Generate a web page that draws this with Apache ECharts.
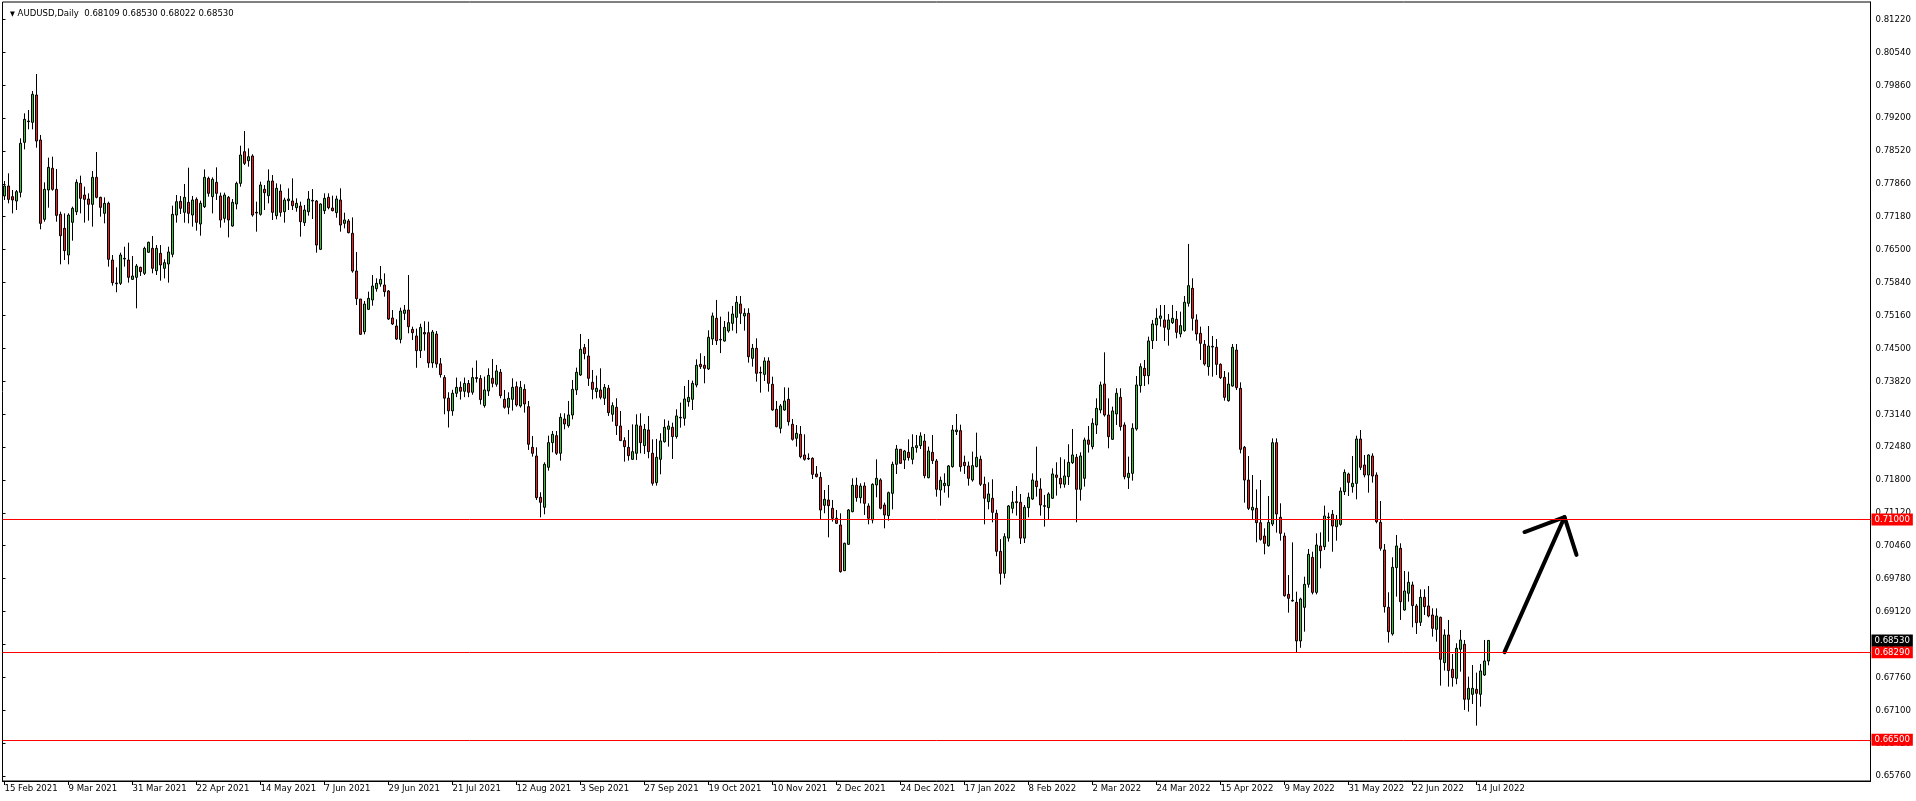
<!DOCTYPE html>
<html><head><meta charset="utf-8">
<script src="https://cdn.jsdelivr.net/npm/echarts@6/dist/echarts.min.js"></script>
<style>html,body{margin:0;padding:0;background:#fff;overflow:hidden}#c{width:1916px;height:801px}</style>
</head><body><div id="c"></div>
<script>
// ---------------- DATA ----------------
const startDate = '2021-02-15';          // first daily bar (weekdays only)
const futureSlots = 95;                   // empty bars to the right of the last candle
const xTickLabels = ['15 Feb 2021','9 Mar 2021','31 Mar 2021','22 Apr 2021','14 May 2021','7 Jun 2021','29 Jun 2021','21 Jul 2021','12 Aug 2021','3 Sep 2021','27 Sep 2021','19 Oct 2021','10 Nov 2021','2 Dec 2021','24 Dec 2021','17 Jan 2022','8 Feb 2022','2 Mar 2022','24 Mar 2022','15 Apr 2022','9 May 2022','31 May 2022','22 Jun 2022','14 Jul 2022'];
const xTickEvery = 16;
const yTickLabels = ['0.65760','0.66420','0.67100','0.67760','0.68440','0.69120','0.69780','0.70460','0.71120','0.71800','0.72480','0.73140','0.73820','0.74500','0.75160','0.75840','0.76500','0.77180','0.77860','0.78520','0.79200','0.79860','0.80540','0.81220'];
const header = {symbol:'AUDUSD,Daily', o:'0.68109', h:'0.68530', l:'0.68022', c:'0.68530'};
const levels = [0.71000, 0.68290, 0.66500];
const lastPrice = 0.68530;
const arrowShaft = [[375,0.68290],[390,0.71050]];
const arrowHead = [[380,0.70745],[390,0.71050],[393,0.70276]];

const open = [
0.77610,0.77814,0.77596,0.77507,0.77684,0.78706,0.79128,0.79115,0.79673,0.78754,
0.77133,0.77732,0.78175,0.77746,0.77235,0.76949,0.76404,0.77072,0.77289,0.77868,
0.77630,0.77548,0.77439,0.77991,0.77582,0.77255,0.77460,0.76302,0.75832,0.75825,
0.76322,0.76302,0.75907,0.75948,0.76152,0.76030,0.76459,0.76540,0.76084,0.76438,
0.76132,0.76220,0.76418,0.77221,0.77501,0.77276,0.77480,0.77221,0.77541,0.77037,
0.77392,0.77970,0.77596,0.77889,0.77610,0.77153,0.77582,0.76997,0.77446,0.77868,
0.78515,0.78331,0.78427,0.77276,0.77235,0.77746,0.77616,0.77916,0.77208,0.77711,
0.77289,0.77514,0.77507,0.77371,0.77405,0.77065,0.77289,0.77521,0.77507,0.76520,
0.77310,0.77582,0.77364,0.77269,0.77528,0.77051,0.77099,0.76847,0.76077,0.75505,
0.74838,0.75294,0.75485,0.75716,0.75811,0.75791,0.75669,0.75117,0.74953,0.74680,
0.75212,0.75280,0.74885,0.74749,0.74450,0.74820,0.74817,0.74200,0.74790,0.74180,
0.73900,0.73480,0.73220,0.73580,0.73700,0.73620,0.73780,0.73600,0.73900,0.73880,
0.73327,0.73626,0.73885,0.73763,0.74008,0.73456,0.73293,0.73456,0.73715,0.73320,
0.73660,0.73306,0.72475,0.72298,0.71454,0.71250,0.72067,0.72571,0.72714,0.72353,
0.73054,0.72918,0.73136,0.73647,0.73953,0.74512,0.74341,0.73803,0.73613,0.73647,
0.73477,0.73681,0.73150,0.73293,0.72911,0.72612,0.72475,0.72230,0.72353,0.72911,
0.72510,0.72830,0.72353,0.71754,0.72230,0.72591,0.72843,0.72884,0.72694,0.73075,
0.73068,0.73408,0.73456,0.73749,0.74171,0.74151,0.74076,0.74689,0.75111,0.74669,
0.74647,0.74852,0.75008,0.75131,0.75403,0.75158,0.75213,0.74293,0.74498,0.74007,
0.73966,0.74239,0.73762,0.73251,0.72863,0.73238,0.73456,0.72945,0.72659,0.72741,
0.72318,0.72250,0.72250,0.71930,0.71862,0.71290,0.71399,0.71229,0.71025,0.70888,
0.69955,0.70493,0.71161,0.71699,0.71447,0.71685,0.71276,0.70991,0.71706,0.71808,
0.71297,0.71079,0.71535,0.72128,0.72434,0.72216,0.72373,0.72230,0.72468,0.72509,
0.72604,0.71855,0.72373,0.72196,0.71603,0.71692,0.71692,0.72080,0.72795,0.72816,
0.72169,0.72094,0.71808,0.72081,0.72230,0.71720,0.71365,0.71434,0.71127,0.70350,
0.69900,0.70620,0.71229,0.71365,0.71352,0.70620,0.71243,0.71420,0.71788,0.71624,
0.71283,0.71243,0.71434,0.71910,0.71842,0.71720,0.71876,0.72162,0.72271,0.71617,
0.71842,0.72625,0.72489,0.72932,0.73238,0.73769,0.73136,0.72639,0.73156,0.73497,
0.72932,0.71856,0.71944,0.72850,0.73735,0.74089,0.73939,0.74655,0.74975,0.75111,
0.75077,0.74886,0.75022,0.75090,0.74791,0.74859,0.75417,0.75724,0.75077,0.74804,
0.74579,0.74123,0.74524,0.74518,0.74170,0.73905,0.73428,0.73728,0.74463,0.73680,
0.72475,0.71807,0.71194,0.71228,0.70936,0.70663,0.70465,0.70908,0.72570,0.71045,
0.70663,0.69471,0.69349,0.69308,0.68520,0.69206,0.69676,0.70227,0.69512,0.70459,
0.70445,0.71051,0.71106,0.70854,0.70901,0.71569,0.71930,0.71671,0.71739,0.72645,
0.72114,0.71909,0.72298,0.71909,0.70942,0.70378,0.69207,0.68662,0.70017,0.70412,
0.69152,0.69493,0.69663,0.69234,0.68900,0.69411,0.69234,0.69050,0.68757,0.69002,
0.68076,0.68641,0.67940,0.67756,0.68349,0.68451,0.67327,0.67429,0.67531,0.67429,
0.67824,0.68109];
const high = [
0.77916,0.78073,0.77732,0.77732,0.78788,0.79298,0.79367,0.79755,0.80102,0.78856,
0.77889,0.78393,0.78413,0.78161,0.77289,0.77255,0.77255,0.77392,0.77950,0.78025,
0.77800,0.77664,0.78120,0.78508,0.77596,0.77582,0.77494,0.76404,0.76152,0.76452,
0.76574,0.76656,0.76384,0.76220,0.76166,0.76574,0.76677,0.76792,0.76608,0.76608,
0.76316,0.76574,0.77412,0.77630,0.77610,0.77855,0.78188,0.77610,0.77582,0.77514,
0.78154,0.78005,0.77991,0.78195,0.77678,0.77678,0.77610,0.77548,0.77902,0.78638,
0.78937,0.78583,0.78461,0.77494,0.77902,0.77834,0.78154,0.78038,0.77868,0.77848,
0.77575,0.77766,0.77970,0.77562,0.77494,0.77426,0.77711,0.77752,0.77528,0.77460,
0.77664,0.77664,0.77616,0.77616,0.77766,0.77269,0.77139,0.77173,0.76465,0.75505,
0.75464,0.75655,0.75995,0.75927,0.76179,0.76029,0.75689,0.75280,0.75090,0.75328,
0.75382,0.75995,0.74940,0.74900,0.75000,0.75050,0.75042,0.74872,0.74850,0.74300,
0.73950,0.73600,0.73650,0.73900,0.73820,0.73900,0.73850,0.74100,0.74250,0.73950,
0.73919,0.74089,0.74280,0.74158,0.74076,0.73647,0.73599,0.73885,0.73817,0.73831,
0.73763,0.73422,0.72707,0.72475,0.71556,0.72169,0.72714,0.72809,0.72809,0.73170,
0.73170,0.73422,0.73851,0.74103,0.74791,0.74587,0.74689,0.74055,0.73940,0.74089,
0.73769,0.73749,0.73395,0.73477,0.73218,0.72680,0.72830,0.72945,0.73150,0.73170,
0.72952,0.73116,0.72639,0.72646,0.72762,0.73047,0.73020,0.72979,0.73252,0.73388,
0.73729,0.73851,0.73838,0.74273,0.74396,0.74341,0.74866,0.75227,0.75486,0.75145,
0.75056,0.75247,0.75363,0.75567,0.75567,0.75315,0.75315,0.74586,0.74702,0.74123,
0.74314,0.74314,0.73919,0.73422,0.73360,0.73701,0.73694,0.73054,0.72931,0.72911,
0.72741,0.72352,0.72271,0.72094,0.71971,0.71603,0.71706,0.71399,0.71195,0.71127,
0.70527,0.71215,0.71842,0.71855,0.71740,0.71760,0.71331,0.71740,0.72230,0.71842,
0.71345,0.71569,0.72182,0.72523,0.72441,0.72421,0.72639,0.72741,0.72727,0.72782,
0.72748,0.72489,0.72727,0.72237,0.71876,0.71944,0.72114,0.72931,0.73156,0.72938,
0.72305,0.72183,0.72387,0.72775,0.72305,0.71876,0.71760,0.71822,0.71200,0.70600,
0.70720,0.71297,0.71583,0.71685,0.71522,0.71297,0.71549,0.71944,0.72489,0.71842,
0.71502,0.71556,0.72046,0.72169,0.72271,0.72230,0.72537,0.72850,0.72339,0.72373,
0.72673,0.72911,0.73068,0.73476,0.73817,0.74416,0.73476,0.73306,0.73681,0.73681,
0.72986,0.72285,0.72966,0.73933,0.74191,0.74260,0.74736,0.75077,0.75315,0.75383,
0.75383,0.75199,0.75383,0.75261,0.75247,0.75567,0.76630,0.75928,0.75193,0.74941,
0.74667,0.74953,0.74749,0.74688,0.74191,0.74034,0.74007,0.74586,0.74586,0.73803,
0.72502,0.72298,0.71909,0.71616,0.71807,0.70820,0.71480,0.72658,0.72658,0.71331,
0.70731,0.69866,0.70534,0.69526,0.69403,0.69832,0.70398,0.70343,0.70718,0.70738,
0.71283,0.71140,0.71194,0.71092,0.71657,0.72025,0.71957,0.72298,0.72713,0.72829,
0.72318,0.72332,0.72352,0.71964,0.71378,0.70500,0.69513,0.70228,0.70684,0.70514,
0.69949,0.69935,0.69731,0.69275,0.69574,0.69574,0.69642,0.69186,0.69186,0.69016,
0.68757,0.68948,0.68253,0.68471,0.68743,0.68539,0.67790,0.68028,0.67872,0.68049,
0.68539,0.68530];
const low = [
0.77528,0.77460,0.77255,0.77324,0.77582,0.78563,0.78972,0.78972,0.78597,0.76929,
0.77085,0.77371,0.77719,0.77085,0.76213,0.76302,0.76213,0.76697,0.77221,0.77255,
0.77065,0.77106,0.76983,0.77562,0.77187,0.77051,0.76166,0.75778,0.75642,0.75791,
0.76166,0.75839,0.75893,0.75315,0.75975,0.75996,0.76452,0.76030,0.75996,0.75880,
0.75927,0.75839,0.76357,0.77065,0.77242,0.77065,0.77051,0.76983,0.76901,0.76799,
0.77364,0.77596,0.77255,0.77528,0.76963,0.77065,0.76765,0.76983,0.77337,0.77800,
0.78243,0.78209,0.77187,0.76881,0.77208,0.77323,0.77460,0.77119,0.77133,0.77187,
0.77065,0.77323,0.77323,0.77289,0.76779,0.76996,0.77208,0.77139,0.76452,0.76506,
0.77242,0.77337,0.77296,0.77167,0.76881,0.76949,0.76847,0.76043,0.75382,0.74770,
0.74783,0.75280,0.75369,0.75655,0.75757,0.75553,0.75076,0.74974,0.74667,0.74600,
0.75076,0.74804,0.74667,0.74100,0.74300,0.74450,0.74100,0.74100,0.74100,0.73900,
0.73150,0.72880,0.73120,0.73500,0.73450,0.73500,0.73500,0.73550,0.73800,0.73350,
0.73286,0.73524,0.73701,0.73715,0.73477,0.73265,0.73150,0.73225,0.73306,0.73286,
0.73184,0.72421,0.72285,0.71400,0.71045,0.71107,0.71999,0.72373,0.72319,0.72203,
0.72843,0.72877,0.73047,0.73545,0.73933,0.74273,0.73729,0.73456,0.73477,0.73456,
0.73340,0.73116,0.72999,0.72727,0.72605,0.72183,0.72203,0.72217,0.72217,0.72353,
0.72339,0.72251,0.71692,0.71692,0.71924,0.72571,0.72489,0.72237,0.72653,0.72877,
0.72918,0.73306,0.73238,0.73701,0.74076,0.73783,0.74055,0.74566,0.74566,0.74400,
0.74634,0.74818,0.74859,0.74804,0.74995,0.74859,0.74205,0.74123,0.73817,0.73592,
0.73830,0.73612,0.73224,0.72884,0.72761,0.73224,0.72918,0.72611,0.72489,0.72250,
0.72203,0.72216,0.71828,0.71862,0.71004,0.71127,0.70636,0.70957,0.70909,0.69915,
0.69949,0.70480,0.71147,0.71365,0.71331,0.71093,0.70902,0.70922,0.71454,0.71208,
0.70820,0.70977,0.71208,0.71930,0.72135,0.72032,0.72203,0.72128,0.72366,0.72441,
0.71842,0.71842,0.72135,0.71467,0.71283,0.71549,0.71447,0.72060,0.72727,0.71978,
0.71931,0.71692,0.71774,0.72067,0.71685,0.70902,0.71209,0.70943,0.70250,0.69670,
0.69800,0.70550,0.71127,0.71079,0.70500,0.70520,0.71045,0.71400,0.71468,0.71079,
0.70855,0.71004,0.71420,0.71488,0.71638,0.71651,0.71706,0.72135,0.70943,0.71386,
0.71672,0.72367,0.72434,0.72748,0.73170,0.73102,0.72455,0.72625,0.72932,0.72816,
0.71822,0.71624,0.71794,0.72816,0.73592,0.73728,0.73762,0.74484,0.74648,0.74941,
0.74648,0.74552,0.74995,0.74702,0.74723,0.74838,0.75349,0.74859,0.74655,0.74260,
0.74143,0.73939,0.73918,0.73952,0.73871,0.73428,0.73408,0.73714,0.73646,0.72352,
0.71344,0.71194,0.71004,0.70534,0.70568,0.70289,0.70445,0.70867,0.70731,0.70568,
0.69424,0.69097,0.69322,0.68290,0.68380,0.68709,0.69608,0.69471,0.69471,0.70003,
0.70377,0.70547,0.70343,0.70568,0.70874,0.71501,0.71480,0.71548,0.71412,0.72011,
0.71862,0.71548,0.71753,0.70922,0.70363,0.69098,0.68485,0.68628,0.69425,0.68948,
0.69138,0.69322,0.68798,0.68662,0.68825,0.69050,0.69002,0.68607,0.68505,0.67606,
0.67913,0.67586,0.67586,0.67634,0.67892,0.67109,0.67075,0.67232,0.66789,0.67177,
0.67804,0.68022];
const close = [
0.77814,0.77541,0.77528,0.77698,0.78686,0.79176,0.79142,0.79687,0.78733,0.77051,
0.77746,0.78195,0.77746,0.77214,0.76799,0.76493,0.77221,0.77358,0.77889,0.77562,
0.77541,0.77439,0.77991,0.77582,0.77378,0.77460,0.76316,0.75839,0.75818,0.76404,
0.76336,0.75948,0.75975,0.76179,0.76064,0.76540,0.76663,0.76132,0.76540,0.76200,
0.76248,0.76466,0.77235,0.77494,0.77358,0.77582,0.77255,0.77528,0.77072,0.77460,
0.77991,0.77664,0.77950,0.77664,0.77119,0.77630,0.77119,0.77480,0.77868,0.78447,
0.78277,0.78413,0.77221,0.77262,0.77834,0.77677,0.77916,0.77276,0.77766,0.77276,
0.77528,0.77548,0.77412,0.77460,0.77085,0.77323,0.77548,0.77507,0.76608,0.77446,
0.77562,0.77371,0.77310,0.77548,0.77017,0.77119,0.76860,0.76077,0.75512,0.74783,
0.75403,0.75519,0.75771,0.75825,0.75907,0.75655,0.75096,0.74994,0.74688,0.75260,
0.75280,0.74940,0.74817,0.74450,0.74926,0.74790,0.74200,0.74831,0.74180,0.73960,
0.73480,0.73220,0.73580,0.73700,0.73620,0.73780,0.73600,0.73900,0.73880,0.73450,
0.73647,0.73946,0.73783,0.74035,0.73531,0.73293,0.73477,0.73701,0.73340,0.73701,
0.73361,0.72537,0.72353,0.71447,0.71352,0.72128,0.72571,0.72741,0.72353,0.73088,
0.72952,0.73136,0.73660,0.74008,0.74478,0.74389,0.73885,0.73660,0.73681,0.73497,
0.73701,0.73184,0.73327,0.72918,0.72612,0.72489,0.72305,0.72387,0.72932,0.72571,
0.72843,0.72387,0.71740,0.72271,0.72605,0.72884,0.72911,0.72694,0.73116,0.73088,
0.73463,0.73497,0.73783,0.74151,0.74124,0.74089,0.74723,0.75159,0.74655,0.74680,
0.74927,0.75022,0.75199,0.75437,0.75213,0.75213,0.74327,0.74498,0.73987,0.73994,
0.74239,0.73783,0.73238,0.72897,0.73320,0.73422,0.72999,0.72639,0.72761,0.72284,
0.72230,0.72237,0.71923,0.71876,0.71195,0.71413,0.71283,0.71025,0.70922,0.69935,
0.70514,0.71195,0.71699,0.71447,0.71685,0.71331,0.71025,0.71719,0.71842,0.71229,
0.71093,0.71549,0.72128,0.72441,0.72148,0.72400,0.72264,0.72475,0.72509,0.72707,
0.71896,0.72400,0.72203,0.71617,0.71801,0.71740,0.72094,0.72829,0.72829,0.72080,
0.72101,0.71842,0.72101,0.72271,0.71720,0.71434,0.71522,0.71147,0.70350,0.69900,
0.70650,0.71277,0.71352,0.71345,0.70620,0.71250,0.71454,0.71808,0.71672,0.71297,
0.71270,0.71522,0.71931,0.71862,0.71726,0.71890,0.72169,0.72319,0.71617,0.72298,
0.72625,0.72537,0.72966,0.73272,0.73749,0.73136,0.72693,0.73218,0.73579,0.72898,
0.71876,0.71944,0.72864,0.73749,0.74123,0.73939,0.74648,0.74995,0.75111,0.75159,
0.74927,0.75077,0.75111,0.74825,0.74961,0.75438,0.75778,0.75111,0.74791,0.74600,
0.74177,0.74545,0.74538,0.74170,0.73898,0.73496,0.73768,0.74518,0.73694,0.72434,
0.71807,0.71228,0.71249,0.70936,0.70595,0.70513,0.70942,0.72570,0.71113,0.70718,
0.69444,0.69390,0.69336,0.68520,0.69376,0.69676,0.70289,0.69512,0.70479,0.70363,
0.71072,0.71038,0.70867,0.71004,0.71582,0.71964,0.71759,0.71739,0.72645,0.72066,
0.71909,0.72318,0.71889,0.70956,0.70411,0.69220,0.68709,0.70024,0.70460,0.69322,
0.69540,0.69717,0.69241,0.68893,0.69411,0.69220,0.69029,0.68777,0.69029,0.68144,
0.68641,0.67913,0.67770,0.68369,0.68539,0.67327,0.67552,0.67552,0.67450,0.67906,
0.68110,0.68530];

// ---------------- BUILD ----------------
function weekdays(start, n) {
  const out = []; const d = new Date(start + 'T00:00:00Z');
  while (out.length < n) { const w = d.getUTCDay(); if (w !== 0 && w !== 6) out.push(d.toISOString().slice(0,10)); d.setUTCDate(d.getUTCDate() + 1); }
  return out;
}
const nBars = open.length;
const categories = weekdays(startDate, nBars + futureSlots);
const ohlc = open.map((o, i) => [o, close[i], low[i], high[i]]);

const FONT = "'DejaVu Sans Condensed','DejaVu Sans',sans-serif";
const FS = 9.5;
const W = 1916, H = 801;
const G = {left: 2.5, top: 2, right: 45.5, bottom: 20};
const yMin = 0.65658, yMax = 0.81573;
const plotH = H - G.top - G.bottom;
const labBase = parseFloat(yTickLabels[0]);
const labTop = parseFloat(yTickLabels[yTickLabels.length - 1]);
const g1Top = G.top + (yMax - labTop) / (yMax - yMin) * plotH;
const g1Bottom = G.bottom + (labBase - yMin) / (yMax - yMin) * plotH;

const showX = (i) => i % xTickEvery === 0 && i / xTickEvery < xTickLabels.length;

const boxLabel = (bg) => ({
  show: true, position: 'end', distance: 1, color: '#fff', backgroundColor: bg,
  fontSize: FS, fontFamily: FONT, padding: [1, 3, 0, 3], lineHeight: 11
});

const chart = echarts.init(document.getElementById('c'), null, {renderer: 'canvas', width: W, height: H});
chart.setOption({
  animation: false,
  backgroundColor: '#ffffff',
  title: {
    text: '{tri|▼} ' + header.symbol + '  ' + [header.o, header.h, header.l, header.c].join(' '),
    left: 5, top: 4,
    textStyle: {fontSize: FS, fontWeight: 'normal', color: '#000', fontFamily: FONT,
      rich: {tri: {fontSize: 7, color: '#000', fontFamily: FONT}}}
  },
  grid: [
    {left: G.left, top: G.top, right: G.right, bottom: G.bottom, show: true, borderColor: '#000', borderWidth: 1, backgroundColor: '#fff'},
    {left: G.left, top: g1Top, right: G.right, bottom: g1Bottom, show: false}
  ],
  xAxis: [
    {
      type: 'category', data: categories, boundaryGap: true, gridIndex: 0,
      axisLine: {show: true, lineStyle: {color: '#000', width: 1}},
      axisTick: {show: true, alignWithLabel: true, interval: showX, length: 4, lineStyle: {color: '#000'}},
      axisLabel: {interval: showX, formatter: (v, i) => xTickLabels[i / xTickEvery] || '', align: 'left', margin: 3,
        fontSize: FS, fontFamily: FONT, color: '#000'},
      splitLine: {show: false}
    },
    {type: 'value', gridIndex: 1, show: false, min: 0, max: 1}
  ],
  yAxis: [
    {
      type: 'value', gridIndex: 0, position: 'right', min: yMin, max: yMax,
      axisLine: {show: true, lineStyle: {color: '#000', width: 1}},
      axisTick: {show: false}, axisLabel: {show: false}, splitLine: {show: false}
    },
    {
      type: 'value', gridIndex: 1, position: 'right', min: 0, max: yTickLabels.length - 1, interval: 1,
      axisLine: {show: false},
      axisTick: {show: true, length: 3, lineStyle: {color: '#000'}},
      axisLabel: {margin: 5, fontSize: FS, fontFamily: FONT, color: '#000',
        formatter: (v) => yTickLabels[Math.round(v)] || ''},
      splitLine: {show: false}
    }
  ],
  series: [
    {
      type: 'candlestick', xAxisIndex: 0, yAxisIndex: 0, data: ohlc, barWidth: 2,
      itemStyle: {color: '#2ec82e', color0: '#ff1a1a', borderColor: '#000', borderColor0: '#000', borderWidth: 1},
      markLine: {
        silent: true, symbol: 'none', animation: false, precision: 5,
        data: levels.map(v => ({yAxis: v, lineStyle: {color: '#ff0000', width: 1, type: 'solid'},
          label: Object.assign(boxLabel('#ff0000'), {formatter: v.toFixed(5)})}))
          .concat([{yAxis: lastPrice, lineStyle: {color: 'rgba(0,0,0,0)', width: 1},
            label: Object.assign(boxLabel('#000000'), {formatter: lastPrice.toFixed(5)})}])
      }
    },
    {
      type: 'line', xAxisIndex: 0, yAxisIndex: 0, data: arrowShaft, symbol: 'none', silent: true,
      lineStyle: {color: '#000', width: 4, cap: 'round'}
    },
    {
      type: 'line', xAxisIndex: 0, yAxisIndex: 0, data: arrowHead, symbol: 'none', silent: true,
      lineStyle: {color: '#000', width: 4, cap: 'round', join: 'round'}
    }
  ]
});
</script>
</body></html>
